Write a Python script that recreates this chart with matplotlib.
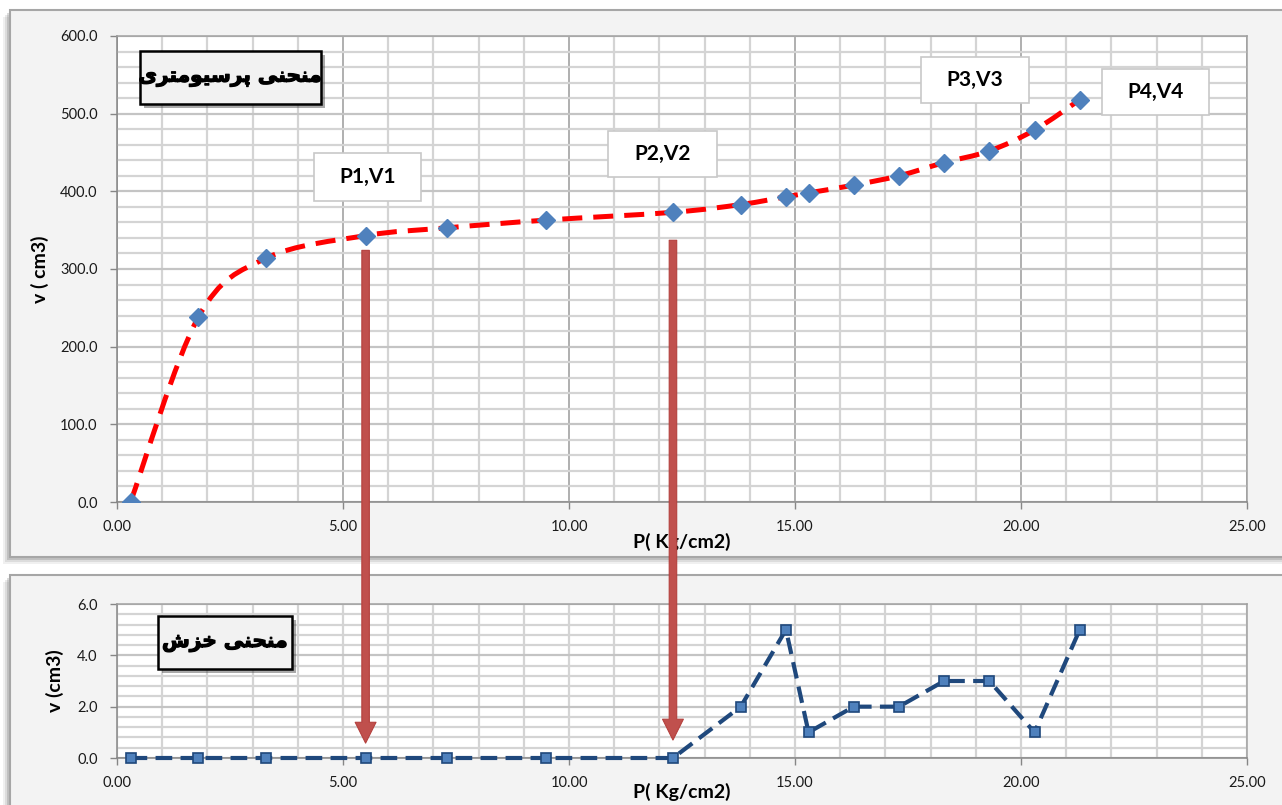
import numpy as np
import matplotlib
matplotlib.use("Agg")
import matplotlib.pyplot as plt
from matplotlib.path import Path
from matplotlib.patches import PathPatch, Rectangle, ConnectionPatch
from matplotlib.ticker import MultipleLocator, FormatStrFormatter
import matplotlib.patheffects as pe

# data
pressure = [0.3, 1.8, 3.3, 5.5, 7.3, 9.5, 12.3, 13.8, 14.8, 15.3, 16.3, 17.3, 18.3, 19.3, 20.3, 21.3]
volume = [0, 238, 314, 343, 353, 363, 373, 383, 393, 398, 408, 420, 437, 452, 479, 518]
creep = [0, 0, 0, 0, 0, 0, 0, 2, 5, 1, 2, 2, 3, 3, 1, 5]

point_labels = ["P1,V1", "P2,V2", "P3,V3", "P4,V4"]
title_top = "منحنی پرسیومتری"
title_bottom = "منحنی خزش"
arrow_p = [5.5, 12.3]

plt.rcParams['font.family'] = ['Lato', 'DejaVu Sans']

# --- simple persian shaping (matplotlib has no arabic shaping) ---
FORMS = {
    'م': ('\uFEE1', '\uFEE2', '\uFEE3', '\uFEE4', 2),
    'ن': ('\uFEE5', '\uFEE6', '\uFEE7', '\uFEE8', 2),
    'ح': ('\uFEA1', '\uFEA2', '\uFEA3', '\uFEA4', 2),
    'خ': ('\uFEA5', '\uFEA6', '\uFEA7', '\uFEA8', 2),
    'ی': ('\uFBFC', '\uFBFD', '\uFBFE', '\uFBFF', 2),
    'پ': ('\uFB56', '\uFB57', '\uFB58', '\uFB59', 2),
    'س': ('\uFEB1', '\uFEB2', '\uFEB3', '\uFEB4', 2),
    'ش': ('\uFEB5', '\uFEB6', '\uFEB7', '\uFEB8', 2),
    'ت': ('\uFE95', '\uFE96', '\uFE97', '\uFE98', 2),
    'ر': ('\uFEAD', '\uFEAE', None, None, 1),
    'ز': ('\uFEAF', '\uFEB0', None, None, 1),
    'و': ('\uFEED', '\uFEEE', None, None, 1),
}

def shape(s):
    out = []
    for i, c in enumerate(s):
        if c not in FORMS:
            out.append(c)
            continue
        prev = s[i-1] if i > 0 else ' '
        nxt = s[i+1] if i < len(s)-1 else ' '
        jp = prev in FORMS and FORMS[prev][4] == 2
        jn = FORMS[c][4] == 2 and nxt in FORMS
        f = FORMS[c]
        if jp and jn:
            out.append(f[3])
        elif jp:
            out.append(f[1])
        elif jn:
            out.append(f[2])
        else:
            out.append(f[0])
    return ''.join(out)[::-1]

fig = plt.figure(figsize=(12.82, 8.05), dpi=100)
fig.patch.set_facecolor('white')

W, H = 1282.0, 805.0

def chart_area(x0, y0, x1, y1):
    # pixel box, drawn with a soft lower-left shadow
    for k, a in [(7, 0.10), (5, 0.15), (3, 0.25)]:
        fig.add_artist(Rectangle(((x0 - k) / W, 1 - (y1 + k) / H), (x1 - x0) / W, (y1 - y0) / H,
                                 transform=fig.transFigure, facecolor='#707070', edgecolor='none',
                                 alpha=a, zorder=-12))
    fig.add_artist(Rectangle((x0 / W, 1 - y1 / H), (x1 - x0) / W, (y1 - y0) / H,
                             transform=fig.transFigure, facecolor='#f3f3f3', edgecolor='#a6a6a6',
                             linewidth=1.5, zorder=-10))

chart_area(10, 10, 1300, 557)
chart_area(10, 575, 1300, 830)

ax1 = fig.add_axes([117 / W, 1 - 502 / H, 1130 / W, 466 / H])
ax2 = fig.add_axes([117 / W, 1 - 758 / H, 1130 / W, 154 / H])

def style(ax, ymax, ymaj, ymin, strong_x):
    ax.set_facecolor('white')
    ax.set_xlim(0, 25)
    ax.set_ylim(0, ymax)
    ax.xaxis.set_major_locator(MultipleLocator(5))
    ax.xaxis.set_minor_locator(MultipleLocator(1))
    ax.yaxis.set_major_locator(MultipleLocator(ymaj))
    ax.yaxis.set_minor_locator(MultipleLocator(ymin))
    ax.xaxis.set_major_formatter(FormatStrFormatter('%.2f'))
    ax.yaxis.set_major_formatter(FormatStrFormatter('%.1f'))
    ax.grid(which='minor', color='#d4d4d4', linewidth=1.6)
    ax.grid(which='major', axis='y', color='#c4c4c4', linewidth=1.6)
    ax.grid(which='major', axis='x', color='#9a9a9a' if strong_x else '#d4d4d4',
            linewidth=1.1 if strong_x else 1.6)
    ax.set_axisbelow(True)
    for s in ax.spines.values():
        s.set_color('#a0a0a0')
        s.set_linewidth(1.1)
    ax.spines['left'].set_color('#868686')
    ax.spines['bottom'].set_color('#868686')
    ax.tick_params(which='major', direction='out', length=5, width=1, color='#868686',
                   labelsize=10.5, labelcolor='#1a1a1a')
    ax.tick_params(axis='x', pad=8)
    ax.tick_params(axis='y', pad=9)
    ax.tick_params(which='minor', length=0)

style(ax1, 600, 100, 20, True)
style(ax2, 6, 2, 0.4, False)

# smoothed (excel-like) curve through the pressuremeter points
px = np.array(pressure, dtype=float)
pv = np.array(volume, dtype=float)
verts = [(px[0], pv[0])]
codes = [Path.MOVETO]
n = len(px)
for i in range(n - 1):
    p0 = np.array([px[max(i - 1, 0)], pv[max(i - 1, 0)]])
    p1 = np.array([px[i], pv[i]])
    p2 = np.array([px[i + 1], pv[i + 1]])
    p3 = np.array([px[min(i + 2, n - 1)], pv[min(i + 2, n - 1)]])
    c1 = p1 + (p2 - p0) / 6.0
    c2 = p2 - (p3 - p1) / 6.0
    verts += [tuple(c1), tuple(c2), tuple(p2)]
    codes += [Path.CURVE4] * 3
ax1.add_patch(PathPatch(Path(verts, codes), facecolor='none', edgecolor='#ff0000',
                        linewidth=3.6, linestyle=(0, (4, 2.2)), capstyle='butt', zorder=3))
ax1.plot(pressure, volume, linestyle='none', marker='D', markersize=9.5,
         markerfacecolor='#4f81bd', markeredgecolor='#4f81bd', zorder=4)

ax2.plot(pressure, creep, color='#1f487c', linewidth=3.0, linestyle=(0, (4, 2)),
         marker='s', markersize=6.5, markerfacecolor='#4f81bd', markeredgecolor='#1f487c',
         markeredgewidth=1.2, zorder=4, clip_on=False)

ax1.set_xlabel('P( Kg/cm2)', fontsize=14, fontweight='bold', va='center')
ax1.xaxis.set_label_coords(0.5, -0.086)
ax1.set_ylabel('v ( cm3)', fontsize=14, fontweight='bold', va='center')
ax1.yaxis.set_label_coords(-0.068, 0.5)
ax2.set_xlabel('P( Kg/cm2)', fontsize=14, fontweight='bold', va='center')
ax2.xaxis.set_label_coords(0.5, -0.22)
ax2.set_ylabel('v (cm3)', fontsize=14, fontweight='bold', va='center')
ax2.yaxis.set_label_coords(-0.055, 0.5)

def box(ax, x0, y0, x1, y1, text, fc, ec, lw, size, family, shadow, heavy=False):
    r = Rectangle((x0, y0), x1 - x0, y1 - y0, transform=ax.transAxes, facecolor=fc,
                  edgecolor=ec, linewidth=lw, zorder=6)
    if shadow:
        r.set_path_effects([pe.SimplePatchShadow(offset=(3, -3), shadow_rgbFace='#404040', alpha=0.45),
                            pe.Normal()])
    ax.add_patch(r)
    t = ax.text((x0 + x1) / 2, (y0 + y1) / 2, text, transform=ax.transAxes, ha='center', va='center',
                fontsize=size, fontweight='bold', family=family, color='black', zorder=7)
    if heavy:
        t.set_path_effects([pe.withStroke(linewidth=0.9, foreground='black')])

box(ax1, 0.0204, 0.8541, 0.1805, 0.9678, shape(title_top), '#f2f2f2', 'black', 1.8, 14.5,
    ['DejaVu Sans'], True, heavy=True)
box(ax2, 0.0363, 0.5779, 0.1549, 0.9221, shape(title_bottom), '#f2f2f2', 'black', 1.8, 14.5,
    ['DejaVu Sans'], True, heavy=True)

label_boxes = [(0.1743, 0.6459, 0.2690, 0.7489), (0.4345, 0.6974, 0.5310, 0.7961),
               (0.7115, 0.8562, 0.8071, 0.9549), (0.8717, 0.8305, 0.9664, 0.9292)]
for (bx0, by0, bx1, by1), t in zip(label_boxes, point_labels):
    box(ax1, bx0, by0, bx1, by1, t, 'white', '#c8c8c8', 1.2, 15, ['Lato', 'DejaVu Sans'], False)

# arrows from the creep limits on the pressuremeter curve down to the creep curve
for xp, ytop, ybot in zip(arrow_p, [324, 337], [0.58, 0.7]):
    cp = ConnectionPatch(xyA=(xp, ytop), coordsA=ax1.transData, xyB=(xp, ybot), coordsB=ax2.transData,
                         arrowstyle='simple,head_length=0.75,head_width=0.75,tail_width=0.27',
                         mutation_scale=20, facecolor='#c0504d', edgecolor='#b4403d',
                         linewidth=0.8, zorder=8)
    fig.add_artist(cp)

fig.savefig('out.png', dpi=100, facecolor='white')
